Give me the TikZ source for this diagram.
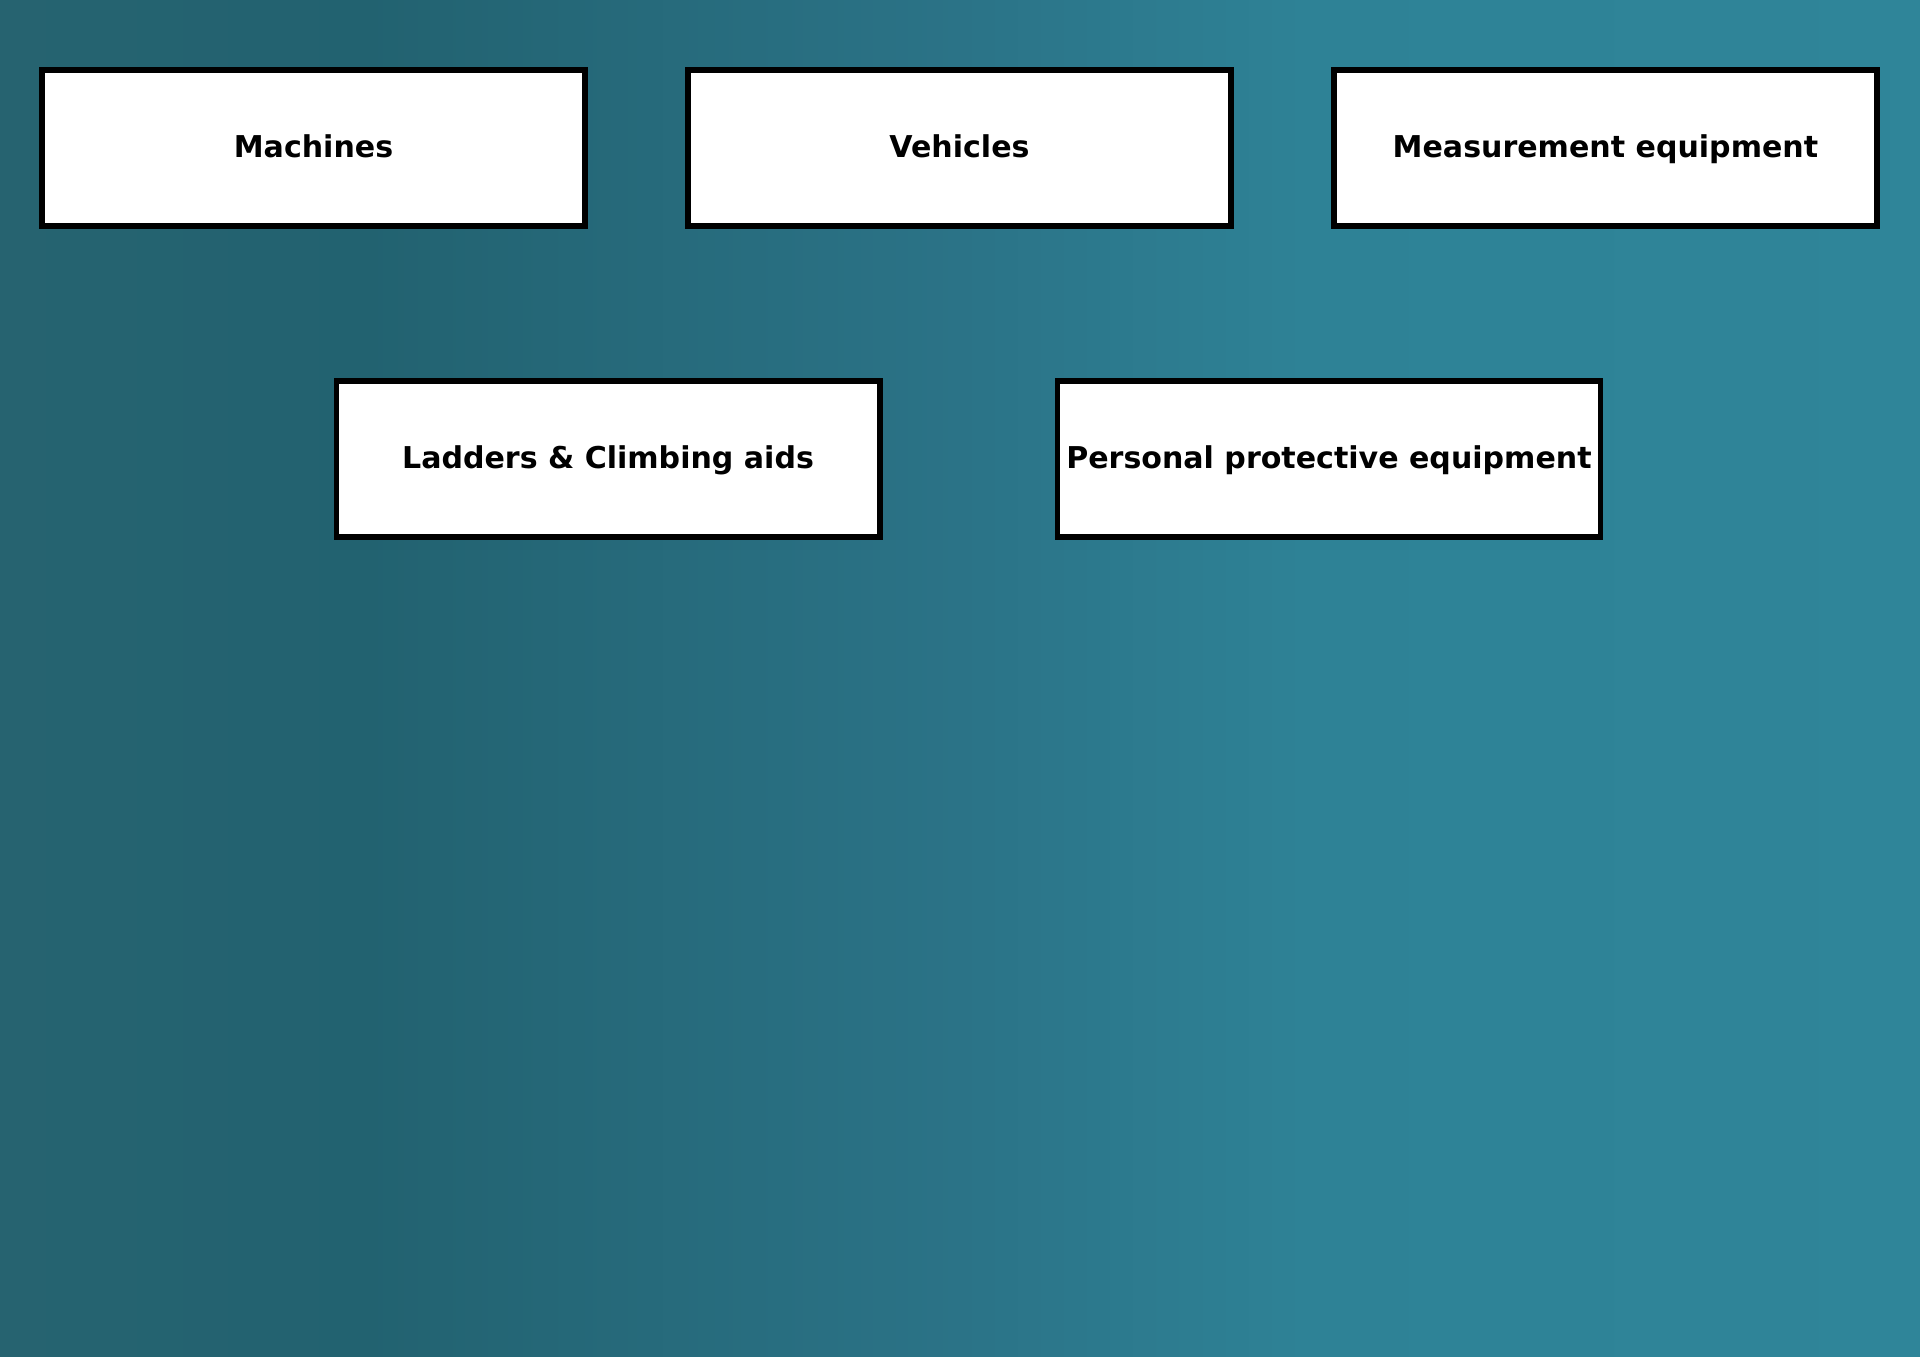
\documentclass[tikz,border=0pt]{standalone}
\usepackage{fontspec}
\setmainfont{DejaVu Sans}
\usetikzlibrary{positioning}
\definecolor{bgA}{RGB}{38,99,112}
\definecolor{bgB}{RGB}{34,98,112}
\definecolor{bgC}{RGB}{43,115,135}
\definecolor{bgD}{RGB}{46,130,150}
\definecolor{bgE}{RGB}{47,133,153}
\pgfdeclarehorizontalshading{tealbg}{100bp}{color(0bp)=(bgA); color(25bp)=(bgA); color(34.5bp)=(bgB); color(50bp)=(bgC); color(59bp)=(bgD); color(75bp)=(bgE); color(100bp)=(bgE)}
\tikzset{
	itembox/.style={draw=black, line width=1.7pt, fill=white, minimum width=5.43cm, minimum height=1.56cm, inner sep=0pt, text height=0.73em, text depth=0.2em, font=\fontsize{8.55}{11}\selectfont\bfseries}
}

\begin{document}
\begin{tikzpicture}
	%background
	\shade[shading=tealbg] (0,0) rectangle (19.2,13.57);
	\useasboundingbox (0,0) rectangle (19.2,13.57);
	%top row
	\node[itembox] (machines) at (3.135,12.09) {Machines};
	\node[itembox, right=0.97cm of machines] (vehicles) {Vehicles};
	\node[itembox, right=0.97cm of vehicles] (measurement) {Measurement equipment};
	%second row
	\node[itembox] (ladders) at (6.08,8.98) {Ladders \& Climbing aids};
	\node[itembox, right=1.72cm of ladders] (ppe) {Personal protective equipment};
\end{tikzpicture}
\end{document}
